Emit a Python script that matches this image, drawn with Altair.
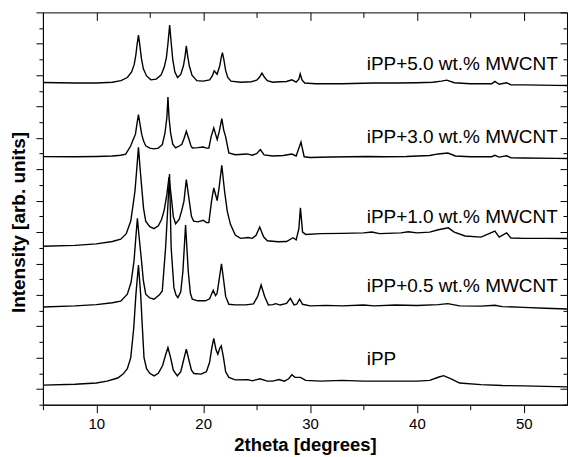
import altair as alt
import pandas as pd

# ---- data: (2theta, stacked intensity) ----
s_ipp = [(5, 1.25), (8, 1.3), (10, 1.38), (11, 1.5), (12, 1.7), (12.5, 1.95), (12.9, 2.3),
         (13.22, 3.0), (13.5, 4.9), (13.7, 7.0), (13.94, 8.9), (14.15, 7.0), (14.3, 5.0),
         (14.46, 3.0), (14.7, 2.3), (15.0, 2.0), (15.4, 1.84), (15.8, 2.0), (16.2, 2.5),
         (16.45, 3.1), (16.7, 3.64), (16.95, 3.0), (17.2, 2.2), (17.58, 1.84), (17.9, 2.1),
         (18.15, 2.8), (18.42, 3.54), (18.68, 2.8), (18.9, 2.2), (19.13, 1.99), (19.8, 1.95),
         (20.3, 2.1), (20.6, 2.7), (20.8, 3.6), (20.99, 4.22), (21.2, 3.5), (21.37, 3.22),
         (21.55, 3.6), (21.69, 3.75), (21.9, 3.0), (22.1, 2.1), (22.4, 1.74), (23.0, 1.58),
         (24.2, 1.6), (24.6, 1.52), (25.3, 1.65), (26.0, 1.5), (26.5, 1.5), (27.1, 1.6),
         (27.6, 1.5), (28.0, 1.65), (28.3, 1.91), (28.6, 1.75), (29.1, 1.74), (29.6, 1.55),
         (31, 1.5), (33, 1.55), (35, 1.5), (38, 1.5), (40, 1.5), (41.2, 1.55), (42.0, 1.75),
         (42.5, 1.85), (43.2, 1.65), (44, 1.38), (46, 1.28), (48, 1.22), (50, 1.2),
         (52, 1.17), (55, 1.12)]

s_05 = [(5, 6.23), (8, 6.3), (10, 6.38), (11.5, 6.5), (12.28, 6.6), (12.9, 7.04), (13.25, 7.8),
        (13.53, 9.2), (13.7, 10.7), (13.84, 11.87), (14.0, 10.7), (14.22, 9.2), (14.4, 7.9),
        (14.62, 7.04), (15.0, 6.8), (15.4, 6.72), (15.9, 7.0), (16.17, 7.25), (16.48, 10.0),
        (16.68, 12.5), (16.85, 14.7), (17.0, 10.0), (17.26, 7.46), (17.45, 7.0), (17.63, 6.82),
        (17.9, 7.2), (18.1, 8.5), (18.35, 11.45), (18.6, 8.5), (18.8, 7.1), (18.98, 6.72),
        (19.5, 6.62), (20.2, 6.62), (20.6, 6.75), (20.94, 7.29), (21.15, 6.95), (21.3, 7.1),
        (21.5, 8.0), (21.71, 8.98), (21.92, 7.9), (22.1, 6.9), (22.4, 6.4), (23.0, 6.36),
        (24.0, 6.36), (24.7, 6.42), (25.1, 6.9), (25.42, 7.63), (25.75, 6.9), (26.1, 6.35),
        (26.5, 6.38), (26.8, 6.44), (27.2, 6.35), (27.8, 6.45), (28.16, 6.78), (28.5, 6.36),
        (28.75, 6.4), (29.02, 6.72), (29.3, 6.4), (30, 6.3), (31.5, 6.33), (33, 6.3),
        (35, 6.35), (36, 6.3), (38, 6.35), (40, 6.32), (42, 6.38), (42.9, 6.44), (44, 6.3),
        (46, 6.28), (47.3, 6.34), (48, 6.25), (50, 6.2), (52, 6.15), (55, 6.08)]

s_10 = [(5, 10.1), (8, 10.15), (10, 10.25), (11.5, 10.4), (12.28, 10.55), (12.8, 10.9),
        (13.22, 11.7), (13.45, 12.8), (13.62, 13.65), (13.78, 15.0), (13.94, 16.4),
        (14.1, 15.0), (14.27, 13.65), (14.42, 12.5), (14.62, 11.7), (15.0, 11.35),
        (15.4, 11.22), (15.8, 11.4), (16.1, 11.8), (16.35, 12.4), (16.6, 13.4), (16.8, 14.5),
        (17.02, 13.2), (17.2, 12.0), (17.42, 11.53), (17.75, 11.8), (18.0, 12.4),
        (18.2, 12.97), (18.42, 14.35), (18.7, 12.97), (18.9, 12.0), (19.1, 11.7),
        (19.5, 11.65), (20.0, 11.75), (20.3, 11.6), (20.53, 11.6), (20.78, 12.97),
        (20.99, 13.81), (21.31, 13.01), (21.5, 13.9), (21.74, 15.26), (22.0, 13.6),
        (22.25, 12.33), (22.55, 11.49), (23.0, 10.81), (23.5, 10.6), (24.2, 10.65),
        (24.6, 10.6), (24.95, 10.8), (25.29, 11.32), (25.65, 10.7), (26.0, 10.45),
        (27.0, 10.38), (27.8, 10.4), (28.4, 10.64), (28.7, 10.5), (28.95, 11.2), (29.1, 12.55),
        (29.3, 11.0), (29.6, 10.85), (31, 10.9), (33, 10.92), (35.0, 10.95), (35.8, 11.0),
        (36.5, 10.9), (38.5, 10.95), (39.2, 11.02), (40, 10.95), (41.2, 11.0), (42.0, 11.15),
        (42.94, 11.27), (43.5, 11.0), (44.5, 10.75), (46, 10.68), (47.3, 11.06),
        (47.7, 10.68), (48.4, 10.95), (48.8, 10.62), (50, 10.6), (52, 10.6), (55, 10.58)]

s_30 = [(5, 15.81), (8, 15.8), (10, 15.82), (11.5, 15.85), (12.28, 15.9), (12.75, 15.97),
        (13.22, 16.5), (13.45, 16.9), (13.66, 17.24), (13.8, 17.9), (13.94, 18.48),
        (14.08, 17.9), (14.24, 17.24), (14.42, 16.8), (14.62, 16.5), (15.0, 16.35),
        (15.4, 16.3), (15.8, 16.35), (16.17, 16.57), (16.42, 17.3), (16.6, 18.3),
        (16.7, 19.6), (16.8, 18.3), (16.95, 17.31), (17.15, 16.6), (17.42, 16.36),
        (17.8, 16.5), (18.0, 16.6), (18.2, 16.95), (18.42, 17.42), (18.65, 16.95),
        (18.85, 16.5), (18.98, 16.36), (19.5, 16.38), (20.0, 16.42), (20.3, 16.35),
        (20.53, 16.36), (20.75, 17.1), (20.99, 17.63), (21.31, 16.89), (21.5, 17.4),
        (21.74, 18.23), (21.92, 17.5), (22.09, 17.1), (22.4, 16.04), (23.0, 15.93),
        (24.1, 15.98), (24.6, 15.9), (25.0, 16.0), (25.35, 16.26), (25.7, 15.92),
        (26.5, 15.85), (27.5, 15.88), (28.3, 15.97), (28.7, 15.85), (29.15, 16.74),
        (29.45, 15.8), (30, 15.75), (32, 15.78), (35.4, 15.82), (37, 15.8), (39, 15.82),
        (41.2, 15.88), (42.0, 15.98), (42.9, 16.04), (43.6, 15.85), (45, 15.8), (47.0, 15.8),
        (47.3, 15.89), (47.7, 15.78), (48.4, 15.86), (48.8, 15.74), (50, 15.72), (53, 15.7),
        (55, 15.68)]

s_50 = [(5, 20.53), (8, 20.5), (10, 20.5), (11.5, 20.55), (12.3, 20.65), (12.9, 20.85),
        (13.3, 21.2), (13.55, 21.7), (13.7, 22.3), (13.82, 23.0), (13.94, 23.55), (14.07, 22.9),
        (14.22, 22.05), (14.4, 21.4), (14.7, 20.95), (15.1, 20.7), (15.6, 20.75), (16.05, 21.0),
        (16.35, 21.5), (16.55, 22.1), (16.7, 23.0), (16.86, 24.2), (17.0, 23.1), (17.15, 22.0),
        (17.35, 21.2), (17.6, 20.85), (17.9, 21.05), (18.15, 21.6), (18.3, 22.2),
        (18.42, 22.87), (18.55, 22.2), (18.7, 21.6), (18.95, 21.0), (19.4, 20.65),
        (20.0, 20.62), (20.6, 20.7), (20.85, 20.95), (21.03, 21.28), (21.3, 21.06),
        (21.55, 21.6), (21.68, 22.1), (21.8, 22.44), (21.93, 22.0), (22.1, 21.3),
        (22.3, 20.85), (22.6, 20.62), (23.5, 20.55), (24.5, 20.58), (25.0, 20.68),
        (25.25, 20.85), (25.5, 21.13), (25.75, 20.85), (26.0, 20.65), (26.5, 20.55),
        (27.2, 20.58), (27.8, 20.6), (28.3, 20.7), (28.7, 20.55), (28.95, 20.75),
        (29.08, 21.09), (29.25, 20.7), (29.5, 20.5), (30.5, 20.45), (33, 20.45), (36, 20.5),
        (38, 20.5), (40, 20.52), (41.5, 20.55), (42.3, 20.62), (42.8, 20.68), (43.5, 20.52),
        (45, 20.45), (47.0, 20.45), (47.3, 20.6), (47.7, 20.42), (48.4, 20.52), (48.8, 20.38),
        (50, 20.38), (53, 20.35), (55, 20.33)]

series_names = ["iPP", "iPP+0.5", "iPP+1.0", "iPP+3.0", "iPP+5.0"]
series_data = [s_ipp, s_05, s_10, s_30, s_50]

label_text = ["iPP+5.0 wt.% MWCNT", "iPP+3.0 wt.% MWCNT", "iPP+1.0 wt.% MWCNT",
              "iPP+0.5 wt.% MWCNT", "iPP"]
label_x = [35.3, 35.3, 35.3, 35.3, 35.3]
label_y = [21.34, 16.68, 11.59, 7.18, 2.52]

x_major = [10, 20, 30, 40, 50]
x_minor = [5, 15, 25, 35, 45]
y_major = [1, 3, 5, 7, 9, 11, 13, 15, 17, 19, 21, 23, 25]
y_minor = [0, 2, 4, 6, 8, 10, 12, 14, 16, 18, 20, 22, 24]

rows = []
for name, pts in zip(series_names, series_data):
    for a, b in pts:
        rows.append({"series": name, "x": a, "y": b})
df = pd.DataFrame(rows)
labels_df = pd.DataFrame({"t": label_text, "lx": label_x, "ly": label_y})

FONT = "Liberation Sans"
xs = alt.Scale(domain=[5, 54.05], nice=False, zero=False)
ys = alt.Scale(domain=[0, 25], nice=False, zero=False)

lines = alt.Chart(df).mark_line(color="black", strokeWidth=1.4, clip=True).encode(
    x=alt.X("x:Q", scale=xs, axis=alt.Axis(
        orient="bottom", values=x_major, tickSize=8, labelFontSize=15, labelPadding=4,
        title="2theta [degrees]", titleFontSize=18.5, titleFontWeight="bold", titlePadding=4)),
    y=alt.Y("y:Q", scale=ys, axis=alt.Axis(
        orient="left", values=y_major, tickSize=7, labels=False,
        title="Intensity [arb. units]", titleFontSize=19, titleFontWeight="bold",
        titlePadding=7, titleY=210)),
    detail="series:N",
)


def axis_layer(xaxis, yaxis):
    return alt.Chart(df).mark_line(strokeOpacity=0, clip=True).encode(
        x=alt.X("x:Q", scale=xs, axis=xaxis),
        y=alt.Y("y:Q", scale=ys, axis=yaxis),
        detail="series:N",
    )


minor_out = axis_layer(
    alt.Axis(orient="bottom", values=x_minor, tickSize=5, labels=False, domain=False, title=None),
    alt.Axis(orient="left", values=y_minor, tickSize=4, labels=False, domain=False, title=None),
)
major_in = axis_layer(
    alt.Axis(orient="top", values=x_major, tickSize=8, offset=-8, labels=False, domain=False, title=None),
    alt.Axis(orient="right", values=y_major, tickSize=7, offset=-7, labels=False, domain=False, title=None),
)
minor_in = axis_layer(
    alt.Axis(orient="top", values=x_minor, tickSize=5, offset=-5, labels=False, domain=False, title=None),
    alt.Axis(orient="right", values=y_minor, tickSize=4, offset=-4, labels=False, domain=False, title=None),
)

texts = alt.Chart(labels_df).mark_text(
    align="left", baseline="alphabetic", fontSize=19, color="black", font=FONT
).encode(
    x=alt.X("lx:Q", scale=xs, axis=None),
    y=alt.Y("ly:Q", scale=ys, axis=None),
    text="t:N",
)

chart = alt.layer(lines, minor_out, major_in, minor_in, texts).resolve_axis(
    x="independent", y="independent"
).properties(
    width=525, height=393,
    padding={"left": 1, "top": 3, "right": 0, "bottom": 0},
    background="white",
).configure_view(
    stroke="black", strokeWidth=1
).configure_axis(
    grid=False, domainColor="black", tickColor="black", labelColor="black",
    titleColor="black", labelFont=FONT, titleFont=FONT, tickWidth=1, domainWidth=1,
)

chart.save("out.html", embed_options={"renderer": "svg", "actions": False})
